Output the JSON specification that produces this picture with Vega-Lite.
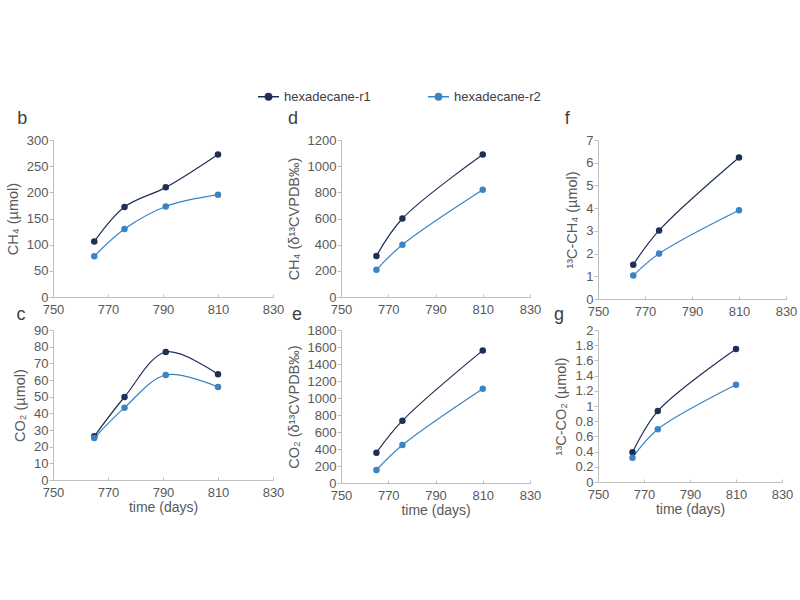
{
  "$schema": "https://vega.github.io/schema/vega-lite/v6.json",
  "padding": {"top": 85, "left": 5, "right": 5, "bottom": 5},
  "background": "white",
  "datasets": {
    "pts": [
      {"panel": "b", "series": "hexadecane-r1", "day": 765, "value": 106},
      {"panel": "b", "series": "hexadecane-r1", "day": 776, "value": 172},
      {"panel": "b", "series": "hexadecane-r1", "day": 791, "value": 209.5},
      {"panel": "b", "series": "hexadecane-r1", "day": 810, "value": 272.5},
      {"panel": "b", "series": "hexadecane-r2", "day": 765, "value": 78},
      {"panel": "b", "series": "hexadecane-r2", "day": 776, "value": 130},
      {"panel": "b", "series": "hexadecane-r2", "day": 791, "value": 173},
      {"panel": "b", "series": "hexadecane-r2", "day": 810, "value": 195.5},
      {"panel": "c", "series": "hexadecane-r1", "day": 765, "value": 26.2},
      {"panel": "c", "series": "hexadecane-r1", "day": 776, "value": 49.8},
      {"panel": "c", "series": "hexadecane-r1", "day": 791, "value": 76.8},
      {"panel": "c", "series": "hexadecane-r1", "day": 810, "value": 63.4},
      {"panel": "c", "series": "hexadecane-r2", "day": 765, "value": 25.2},
      {"panel": "c", "series": "hexadecane-r2", "day": 776, "value": 43.4},
      {"panel": "c", "series": "hexadecane-r2", "day": 791, "value": 63},
      {"panel": "c", "series": "hexadecane-r2", "day": 810, "value": 55.8},
      {"panel": "d", "series": "hexadecane-r1", "day": 765, "value": 314},
      {"panel": "d", "series": "hexadecane-r1", "day": 776, "value": 600},
      {"panel": "d", "series": "hexadecane-r1", "day": 810, "value": 1089},
      {"panel": "d", "series": "hexadecane-r2", "day": 765, "value": 208},
      {"panel": "d", "series": "hexadecane-r2", "day": 776, "value": 400},
      {"panel": "d", "series": "hexadecane-r2", "day": 810, "value": 820},
      {"panel": "e", "series": "hexadecane-r1", "day": 765, "value": 357},
      {"panel": "e", "series": "hexadecane-r1", "day": 776, "value": 733},
      {"panel": "e", "series": "hexadecane-r1", "day": 810, "value": 1560},
      {"panel": "e", "series": "hexadecane-r2", "day": 765, "value": 153},
      {"panel": "e", "series": "hexadecane-r2", "day": 776, "value": 447},
      {"panel": "e", "series": "hexadecane-r2", "day": 810, "value": 1110},
      {"panel": "f", "series": "hexadecane-r1", "day": 765, "value": 1.51},
      {"panel": "f", "series": "hexadecane-r1", "day": 776, "value": 3.02},
      {"panel": "f", "series": "hexadecane-r1", "day": 810, "value": 6.23},
      {"panel": "f", "series": "hexadecane-r2", "day": 765, "value": 1.03},
      {"panel": "f", "series": "hexadecane-r2", "day": 776, "value": 2.0},
      {"panel": "f", "series": "hexadecane-r2", "day": 810, "value": 3.91},
      {"panel": "g", "series": "hexadecane-r1", "day": 765, "value": 0.39},
      {"panel": "g", "series": "hexadecane-r1", "day": 776, "value": 0.933},
      {"panel": "g", "series": "hexadecane-r1", "day": 810, "value": 1.75},
      {"panel": "g", "series": "hexadecane-r2", "day": 765, "value": 0.32},
      {"panel": "g", "series": "hexadecane-r2", "day": 776, "value": 0.695},
      {"panel": "g", "series": "hexadecane-r2", "day": 810, "value": 1.279}
    ]
  },
  "columns": 3,
  "align": "each",
  "bounds": "flush",
  "spacing": {"row": 31, "column": 68},
  "concat": [
    {
      "width": 220, "height": 157,
      "title": {"text": "b", "dx": 12, "offset": 6},
      "data": {"name": "pts"},
      "transform": [{"filter": "datum.panel == 'b'"}],
      "mark": {"type": "line", "interpolate": "catmull-rom", "strokeWidth": 1.2, "point": {"filled": true, "size": 42, "opacity": 1}},
      "encoding": {
        "x": {"field": "day", "type": "quantitative", "scale": {"domain": [750, 830], "nice": false}, "axis": {"values": [750, 770, 790, 810, 830], "title": null}},
        "y": {"field": "value", "type": "quantitative", "scale": {"domain": [0, 300], "nice": false}, "axis": {"values": [0, 50, 100, 150, 200, 250, 300], "title": "CH₄ (µmol)"}},
        "color": {"field": "series", "type": "nominal", "scale": {"domain": ["hexadecane-r1", "hexadecane-r2"], "range": ["#1f2f57", "#3b84c4"]}, "title": null,
          "legend": {"orient": "none", "legendX": 204, "legendY": -55, "direction": "horizontal"}}
      }
    },
    {
      "width": 189, "height": 157,
      "title": {"text": "d", "dx": 2, "offset": 6},
      "data": {"name": "pts"},
      "transform": [{"filter": "datum.panel == 'd'"}],
      "mark": {"type": "line", "interpolate": "catmull-rom", "strokeWidth": 1.2, "point": {"filled": true, "size": 42, "opacity": 1}},
      "encoding": {
        "x": {"field": "day", "type": "quantitative", "scale": {"domain": [750, 830], "nice": false}, "axis": {"values": [750, 770, 790, 810, 830], "title": null}},
        "y": {"field": "value", "type": "quantitative", "scale": {"domain": [0, 1200], "nice": false}, "axis": {"values": [0, 200, 400, 600, 800, 1000, 1200], "format": "d", "title": "CH₄ (δ¹³CVPDB‰)"}},
        "color": {"field": "series", "type": "nominal", "title": null}
      }
    },
    {
      "width": 188, "height": 159,
      "title": {"text": "f", "dx": 0, "offset": 6},
      "data": {"name": "pts"},
      "transform": [{"filter": "datum.panel == 'f'"}],
      "mark": {"type": "line", "interpolate": "catmull-rom", "strokeWidth": 1.2, "point": {"filled": true, "size": 42, "opacity": 1}},
      "encoding": {
        "x": {"field": "day", "type": "quantitative", "scale": {"domain": [750, 830], "nice": false}, "axis": {"values": [750, 770, 790, 810, 830], "title": null}},
        "y": {"field": "value", "type": "quantitative", "scale": {"domain": [0, 7], "nice": false}, "axis": {"values": [0, 1, 2, 3, 4, 5, 6, 7], "title": "¹³C-CH₄ (µmol)"}},
        "color": {"field": "series", "type": "nominal", "title": null}
      }
    },
    {
      "width": 220, "height": 150,
      "title": {"text": "c", "dx": 4, "offset": 0},
      "data": {"name": "pts"},
      "transform": [{"filter": "datum.panel == 'c'"}],
      "mark": {"type": "line", "interpolate": "catmull-rom", "strokeWidth": 1.2, "point": {"filled": true, "size": 42, "opacity": 1}},
      "encoding": {
        "x": {"field": "day", "type": "quantitative", "scale": {"domain": [750, 830], "nice": false}, "axis": {"values": [750, 770, 790, 810, 830], "title": "time (days)"}},
        "y": {"field": "value", "type": "quantitative", "scale": {"domain": [0, 90], "nice": false}, "axis": {"values": [0, 10, 20, 30, 40, 50, 60, 70, 80, 90], "title": "CO₂ (µmol)"}},
        "color": {"field": "series", "type": "nominal", "title": null}
      }
    },
    {
      "width": 189, "height": 153,
      "title": {"text": "e", "dx": 6, "offset": 0},
      "data": {"name": "pts"},
      "transform": [{"filter": "datum.panel == 'e'"}],
      "mark": {"type": "line", "interpolate": "catmull-rom", "strokeWidth": 1.2, "point": {"filled": true, "size": 42, "opacity": 1}},
      "encoding": {
        "x": {"field": "day", "type": "quantitative", "scale": {"domain": [750, 830], "nice": false}, "axis": {"values": [750, 770, 790, 810, 830], "title": "time (days)"}},
        "y": {"field": "value", "type": "quantitative", "scale": {"domain": [0, 1800], "nice": false}, "axis": {"values": [0, 200, 400, 600, 800, 1000, 1200, 1400, 1600, 1800], "format": "d", "title": "CO₂ (δ¹³CVPDB‰)"}},
        "color": {"field": "series", "type": "nominal", "title": null}
      }
    },
    {
      "width": 184, "height": 152,
      "title": {"text": "g", "dx": 0, "offset": 0},
      "data": {"name": "pts"},
      "transform": [{"filter": "datum.panel == 'g'"}],
      "mark": {"type": "line", "interpolate": "catmull-rom", "strokeWidth": 1.2, "point": {"filled": true, "size": 42, "opacity": 1}},
      "encoding": {
        "x": {"field": "day", "type": "quantitative", "scale": {"domain": [750, 830], "nice": false}, "axis": {"values": [750, 770, 790, 810, 830], "title": "time (days)"}},
        "y": {"field": "value", "type": "quantitative", "scale": {"domain": [0, 2], "nice": false}, "axis": {"values": [0, 0.2, 0.4, 0.6, 0.8, 1, 1.2, 1.4, 1.6, 1.8, 2], "format": "~g", "title": "¹³C-CO₂ (µmol)"}},
        "color": {"field": "series", "type": "nominal", "title": null}
      }
    }
  ],
  "config": {
    "font": "Liberation Sans",
    "view": {"stroke": null},
    "axis": {
      "grid": false,
      "domainColor": "#bfbfbf",
      "tickColor": "#bfbfbf",
      "labelColor": "#595959",
      "titleColor": "#595959",
      "labelFont": "Liberation Sans",
      "titleFont": "Liberation Sans",
      "labelFontSize": 13,
      "titleFontSize": 14,
      "titleFontWeight": "normal",
      "tickSize": 4
    },
    "axisX": {"tickSize": -3, "labelPadding": 9, "titlePadding": 1, "labelFlush": false},
    "axisY": {"titlePadding": 6, "labelPadding": 1, "titleFontSize": 14.5},
    "title": {"fontSize": 18, "font": "Liberation Sans", "color": "#404040", "fontWeight": "normal", "anchor": "start", "frame": "bounds", "baseline": "alphabetic"},
    "legend": {
      "labelFontSize": 13,
      "labelColor": "#404040",
      "labelFont": "Liberation Sans",
      "columnPadding": 54,
      "symbolType": "M-1,0H1M-0.3,0A0.3,0.3,0,1,1,0.3,0A0.3,0.3,0,1,1,-0.3,0Z",
      "symbolSize": 440,
      "symbolStrokeWidth": 1.5,
      "labelOffset": 4
    }
  }
}
